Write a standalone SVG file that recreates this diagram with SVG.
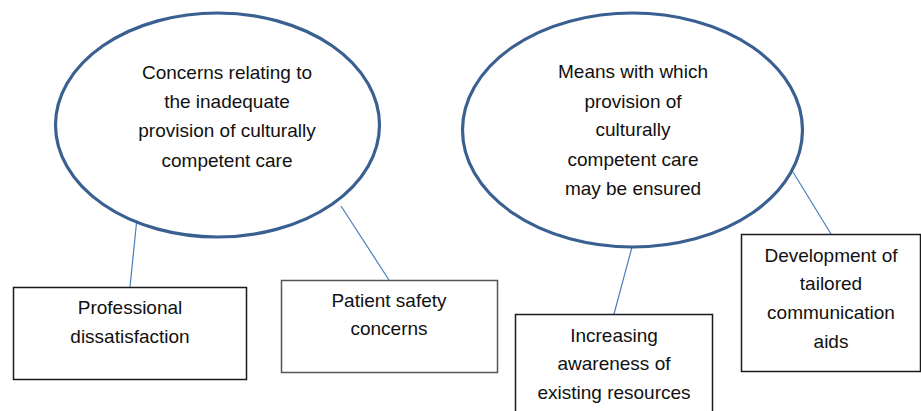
<svg xmlns="http://www.w3.org/2000/svg" width="921" height="411" viewBox="0 0 921 411">
  <style>
    .oval { fill: #ffffff; stroke: #3a6091; stroke-width: 3.2; }
    .box { fill: #ffffff; stroke: #1a1a1a; stroke-width: 1.5; }
    .box.grey { stroke: #555555; }
    .link { stroke: #4a7ebb; stroke-width: 1.2; fill: none; }
    text { font-family: "Liberation Sans", Arial, sans-serif; font-size: 19px; fill: #111111; text-anchor: middle; }
  </style>
  <rect width="921" height="411" fill="#ffffff"/>

  <!-- connectors between ovals and boxes -->
  <g id="connectors">
    <line class="link" x1="137" y1="218" x2="130" y2="287"/>
    <line class="link" x1="341" y1="206" x2="389" y2="280"/>
    <line class="link" x1="632" y1="247" x2="614" y2="314"/>
    <line class="link" x1="793" y1="172" x2="831" y2="234"/>
  </g>

  <g id="concerns">
    <ellipse class="oval" cx="217.5" cy="125" rx="162" ry="112"/>
    <text x="227" y="79">Concerns relating to</text>
    <text x="227" y="108">the inadequate</text>
    <text x="227" y="137">provision of culturally</text>
    <text x="227" y="167">competent care</text>
  </g>

  <g id="means">
    <ellipse class="oval" cx="632.5" cy="130" rx="170" ry="117"/>
    <text x="633" y="78">Means with which</text>
    <text x="633" y="108">provision of</text>
    <text x="633" y="136">culturally</text>
    <text x="633" y="166">competent care</text>
    <text x="633" y="195">may be ensured</text>
  </g>

  <g id="professional-dissatisfaction">
    <rect class="box" x="13.5" y="287.5" width="233" height="92"/>
    <text x="130" y="314">Professional</text>
    <text x="130" y="343">dissatisfaction</text>
  </g>

  <g id="patient-safety">
    <rect class="box grey" x="281.5" y="280.5" width="216" height="92"/>
    <text x="389" y="307">Patient safety</text>
    <text x="389" y="335">concerns</text>
  </g>

  <g id="increasing-awareness">
    <rect class="box" x="515.5" y="314.5" width="197" height="110"/>
    <text x="614" y="342">Increasing</text>
    <text x="614" y="370">awareness of</text>
    <text x="614" y="399">existing resources</text>
  </g>

  <g id="communication-aids">
    <rect class="box" x="741.5" y="234.5" width="179" height="137"/>
    <text x="831" y="262">Development of</text>
    <text x="831" y="290">tailored</text>
    <text x="831" y="319">communication</text>
    <text x="831" y="348">aids</text>
  </g>
</svg>
